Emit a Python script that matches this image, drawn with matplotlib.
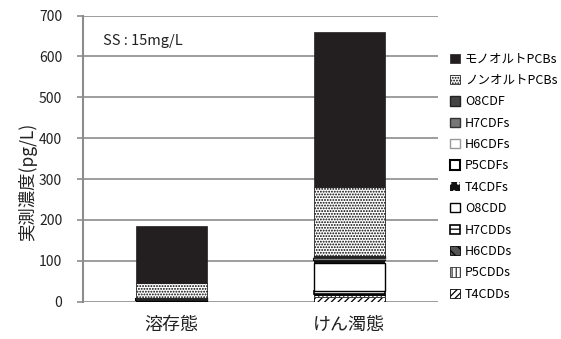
import matplotlib.pyplot as plt
import numpy as np

plt.rcParams['font.family'] = ['Noto Sans CJK JP', 'DejaVu Sans']
plt.rcParams['hatch.linewidth'] = 0.9

categories = ['溶存態', 'けん濁態']
components = ['T4CDDs', 'P5CDDs', 'H6CDDs', 'H7CDDs', 'O8CDD',
              'T4CDFs', 'P5CDFs', 'H6CDFs', 'H7CDFs', 'O8CDF',
              'ノンオルトPCBs', 'モノオルトPCBs']
dissolved = [0.5, 0.5, 0.5, 0.5, 1.5, 1.5, 1.0, 0.5, 1.0, 0.5, 37, 141]
suspended = [12, 4, 4, 6, 68, 7, 3, 2, 3, 2, 170, 380]

# face, hatch colour (edge), hatch pattern, edge width
styles = {
    'T4CDDs': ('white', 'black', '/////', 0.6),
    'P5CDDs': ('white', '#333333', '||||', 0.6),
    'H6CDDs': ('#555555', 'black', '\\\\\\', 0.6),
    'H7CDDs': ('white', 'black', '--', 1.2),
    'O8CDD': ('white', 'black', None, 1.0),
    'T4CDFs': ('#111111', 'white', '..', 0.0),
    'P5CDFs': ('white', 'black', None, 1.5),
    'H6CDFs': ('white', '#999999', None, 1.0),
    'H7CDFs': ('#777777', '#333333', None, 1.0),
    'O8CDF': ('#444444', '#222222', None, 1.0),
    'ノンオルトPCBs': ('white', 'black', '......', 0.5),
    'モノオルトPCBs': ('#231f20', '#231f20', None, 0.5),
}

fig = plt.figure(figsize=(5.61, 3.39), dpi=100)
ax = fig.add_axes([0.148, 0.110, 0.633, 0.844])

x = np.arange(len(categories))
values = np.array([dissolved, suspended]).T
bottom = np.zeros(len(categories))
handles = []
for name, vals in zip(components, values):
    face, edge, hatch, lw = styles[name]
    bars = ax.bar(x, vals, width=0.4, bottom=bottom, color=face,
                  edgecolor=edge, hatch=hatch, linewidth=lw, zorder=3,
                  label=name)
    handles.append(bars)
    bottom += vals

ax.set_xlim(-0.5, 1.5)
ax.set_ylim(0, 700)
ax.set_yticks(np.arange(0, 701, 100))
ax.set_xticks(x)
ax.set_xticklabels(categories, fontsize=13, color='#222222')
ax.tick_params(axis='y', labelsize=10, colors='#222222', length=4,
               color='#8c8c8c', width=1.2, pad=11)
ax.tick_params(axis='x', length=0, pad=10)
ax.yaxis.grid(True, color='#8c8c8c', linewidth=1.2, zorder=0)
for side in ['top', 'right', 'bottom']:
    ax.spines[side].set_visible(False)
ax.spines['left'].set_color('#8c8c8c')
ax.spines['left'].set_linewidth(1.5)
ax.set_ylabel('実測濃度(pg/L)', fontsize=12.5, color='#222222')
ax.yaxis.set_label_coords(-0.128, 0.42)

ax.text(0.056, 0.91, 'SS : 15mg/L', transform=ax.transAxes, fontsize=10.5,
        color='#222222', va='center')

leg = fig.legend(handles[::-1], components[::-1], loc='upper left',
                 bbox_to_anchor=(0.803, 0.845), frameon=False, fontsize=9,
                 handlelength=0.75, handleheight=0.75, handletextpad=0.4,
                 labelspacing=0.67, borderaxespad=0, borderpad=0)

fig.savefig('out.png', dpi=100)
